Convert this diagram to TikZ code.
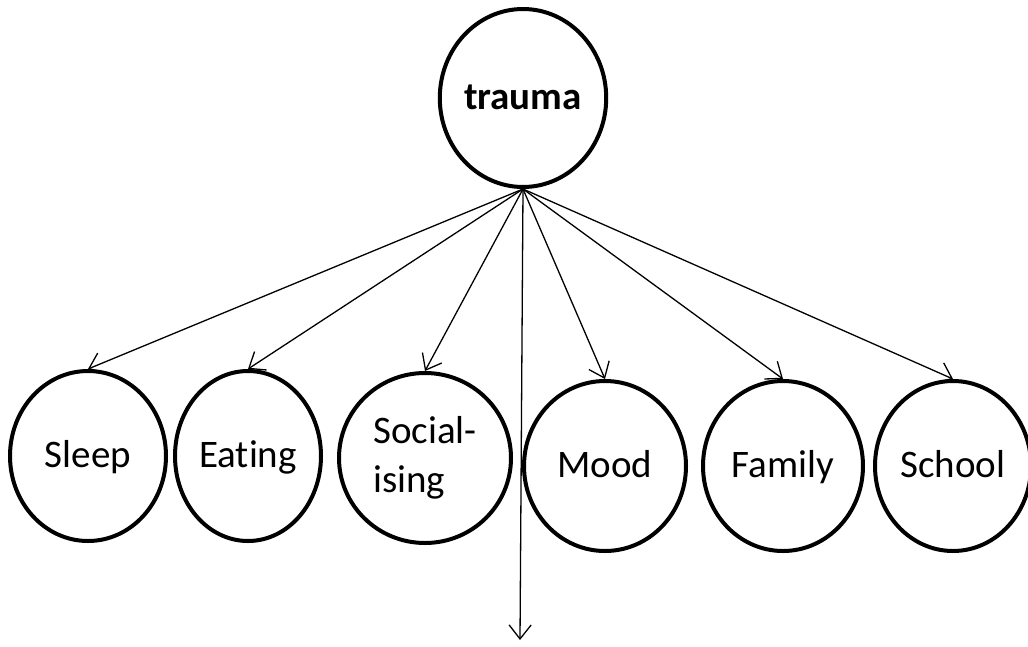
\documentclass[tikz,border=0pt]{standalone}
\usepackage{fontspec}
\setmainfont{Carlito}[Ligatures=NoCommon]
\usetikzlibrary{shapes.geometric,arrows.meta}
\begin{document}
\begin{tikzpicture}[x=1pt,y=-1pt,
  bub/.style={ellipse,draw,line width=4pt,inner sep=0pt,align=center,
    font=\fontsize{39}{46}\selectfont},
  one/.style={text height=28pt,text depth=5pt},
  link/.style={line width=1.3pt,-{Straight Barb[length=14pt,width=22pt,line width=1.3pt]}}]
\useasboundingbox (0,0) rectangle (1028,646);
\node[bub,one,minimum width=160pt,minimum height=178pt,font=\fontsize{39}{42}\selectfont\bfseries] (trauma) at (523,98) {trauma};
\node[bub,one,minimum width=156pt,minimum height=170pt] (sleep) at (88,456) {Sleep};
\node[bub,one,minimum width=146pt,minimum height=170pt] (eating) at (248,456) {Eating};
\node[bub,align=left,minimum width=172pt,minimum height=170pt] (social) at (425,458) {Social-\\[3pt]ising};
\node[bub,one,minimum width=162pt,minimum height=170pt] (mood) at (605,466) {Mood};
\node[bub,one,minimum width=160pt,minimum height=170pt] (family) at (783,466) {Family};
\node[bub,one,minimum width=156pt,minimum height=170pt] (school) at (953,466) {School};
\coordinate (down) at (520,640);
\draw[link] (trauma.south) -- (sleep.north);
\draw[link] (trauma.south) -- (eating.north);
\draw[link] (trauma.south) -- (social.north);
\draw[link] (trauma.south) -- (mood.north);
\draw[link] (trauma.south) -- (family.north);
\draw[link] (trauma.south) -- (school.north);
\draw[link] (trauma.south) -- (down);
\end{tikzpicture}
\end{document}
